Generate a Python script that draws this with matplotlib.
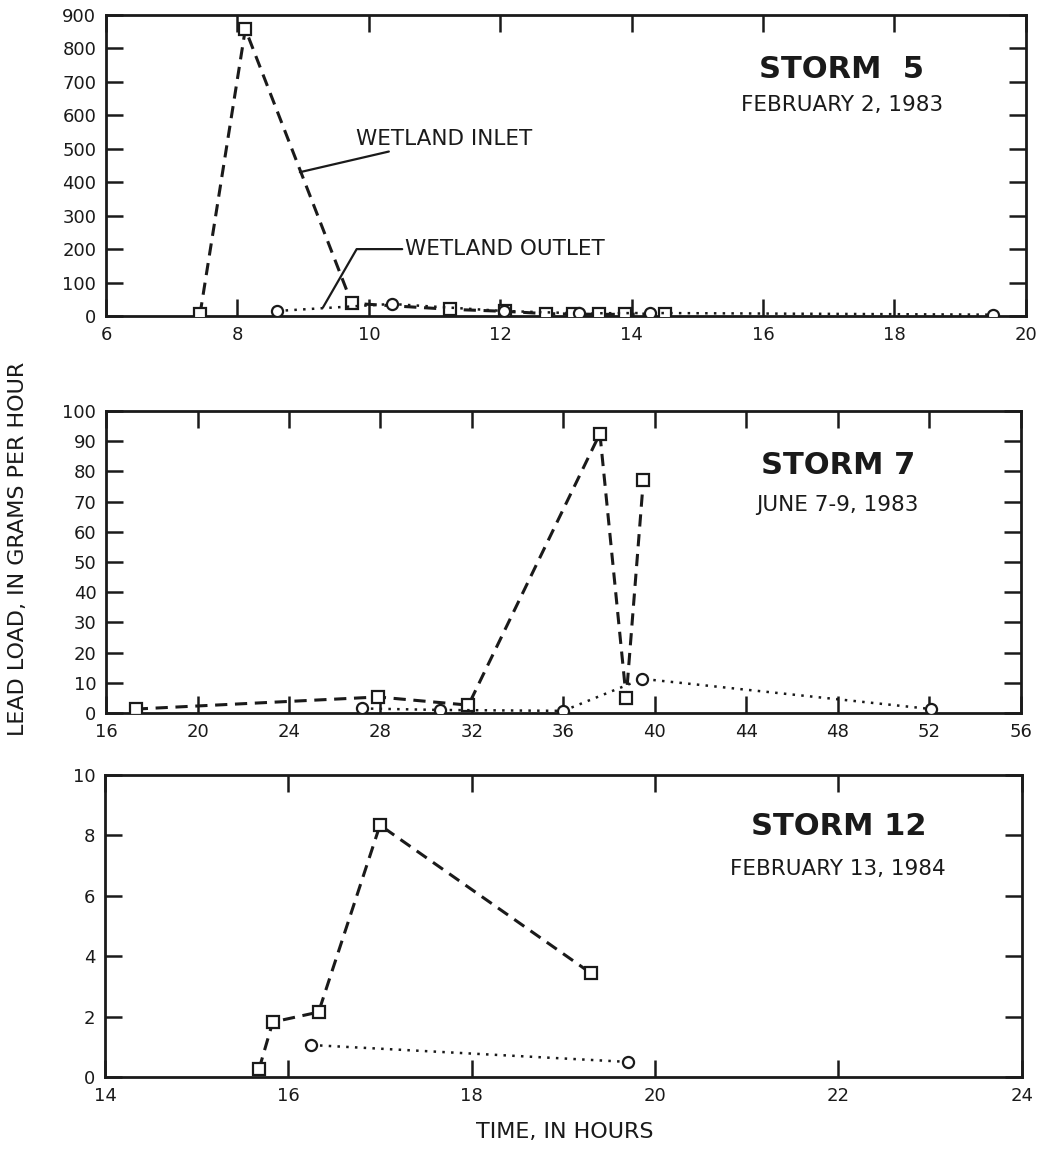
import matplotlib
matplotlib.use("Agg")
import matplotlib.pyplot as plt

plt.rcParams['font.family'] = ['DejaVu Sans']

# Storm 5 - February 2, 1983
s5_in_t = [7.43, 8.12, 9.74, 11.24, 12.07, 12.7, 13.1, 13.5, 13.9, 14.5]
s5_in_v = [5, 858, 38, 20, 14, 7, 6, 5, 5, 7]
s5_out_t = [8.6, 10.35, 12.05, 13.2, 14.28, 19.5]
s5_out_v = [15, 36, 15, 8, 9, 4]

# Storm 7 - June 7-9, 1983
s7_in_t = [17.3, 27.9, 31.85, 37.6, 38.75, 39.5]
s7_in_v = [1.3, 5.3, 2.6, 92.5, 5.0, 77]
s7_out_t = [27.2, 30.6, 36.0, 39.45, 52.1]
s7_out_v = [1.5, 1.0, 0.7, 11.3, 1.3]

# Storm 12 - February 13, 1984
s12_in_t = [15.68, 15.83, 16.33, 17.0, 19.3]
s12_in_v = [0.26, 1.82, 2.15, 8.34, 3.44]
s12_out_t = [16.25, 19.71]
s12_out_v = [1.06, 0.5]

ink = '#1a1a1a'

panels = [
    dict(rect=[0.101, 0.7264, 0.876, 0.2606], xlim=(6, 20), xt=range(6, 21, 2),
         ylim=(0, 900), yt=range(0, 901, 100),
         inl=(s5_in_t, s5_in_v), outl=(s5_out_t, s5_out_v),
         title='STORM  5', date='FEBRUARY 2, 1983', ty=0.82, dy=0.70),
    dict(rect=[0.101, 0.3827, 0.871, 0.2615], xlim=(16, 56), xt=range(16, 57, 4),
         ylim=(0, 100), yt=range(0, 101, 10),
         inl=(s7_in_t, s7_in_v), outl=(s7_out_t, s7_out_v),
         title='STORM 7', date='JUNE 7-9, 1983', ty=0.82, dy=0.69),
    dict(rect=[0.100, 0.0675, 0.873, 0.2615], xlim=(14, 24), xt=range(14, 25, 2),
         ylim=(0, 10), yt=range(0, 11, 2),
         inl=(s12_in_t, s12_in_v), outl=(s12_out_t, s12_out_v),
         title='STORM 12', date='FEBRUARY 13, 1984', ty=0.83, dy=0.69),
]

fig = plt.figure(figsize=(10.5, 11.55), dpi=100)

axes = []
for p in panels:
    ax = fig.add_axes(p['rect'])
    ax.plot(*p['inl'], linestyle=(0, (4, 2.5)), color=ink, linewidth=2.2,
            marker='s', markersize=8, markerfacecolor='white',
            markeredgecolor=ink, markeredgewidth=1.6, zorder=3)
    ax.plot(*p['outl'], linestyle=(0, (1, 2.5)), color=ink, linewidth=1.8,
            marker='o', markersize=8, markerfacecolor='white',
            markeredgecolor=ink, markeredgewidth=1.6, zorder=3)
    ax.set_xlim(*p['xlim'])
    ax.set_ylim(*p['ylim'])
    ax.set_xticks(list(p['xt']))
    ax.set_yticks(list(p['yt']))
    ax.tick_params(direction='in', length=12, width=1.8, top=True, right=True,
                   labelsize=13, pad=7, colors=ink)
    for sp in ax.spines.values():
        sp.set_linewidth(2)
        sp.set_color(ink)
    ax.text(0.8, p['ty'], p['title'], transform=ax.transAxes, ha='center',
            va='center', fontsize=22, fontweight='bold', color=ink)
    ax.text(0.8, p['dy'], p['date'], transform=ax.transAxes, ha='center',
            va='center', fontsize=15.5, color=ink)
    axes.append(ax)

ax1 = axes[0]
ax1.annotate('WETLAND INLET', xy=(8.95, 430), xytext=(9.8, 530),
             fontsize=15.5, va='center', color=ink,
             arrowprops=dict(arrowstyle='-', color=ink, lw=1.6,
                             shrinkA=0, shrinkB=0))
ax1.annotate('WETLAND OUTLET', xy=(9.3, 25), xytext=(10.55, 200),
             fontsize=15.5, va='center', color=ink,
             arrowprops=dict(arrowstyle='-', color=ink, lw=1.6,
                             shrinkA=0, shrinkB=0,
                             connectionstyle='angle,angleA=0,angleB=60,rad=0'))

fig.text(0.017, 0.525, 'LEAD LOAD, IN GRAMS PER HOUR', rotation=90,
         ha='center', va='center', fontsize=16, color=ink)
fig.text(0.538, 0.02, 'TIME, IN HOURS', ha='center', va='center',
         fontsize=16, color=ink)

fig.savefig('out.png', dpi=100)
